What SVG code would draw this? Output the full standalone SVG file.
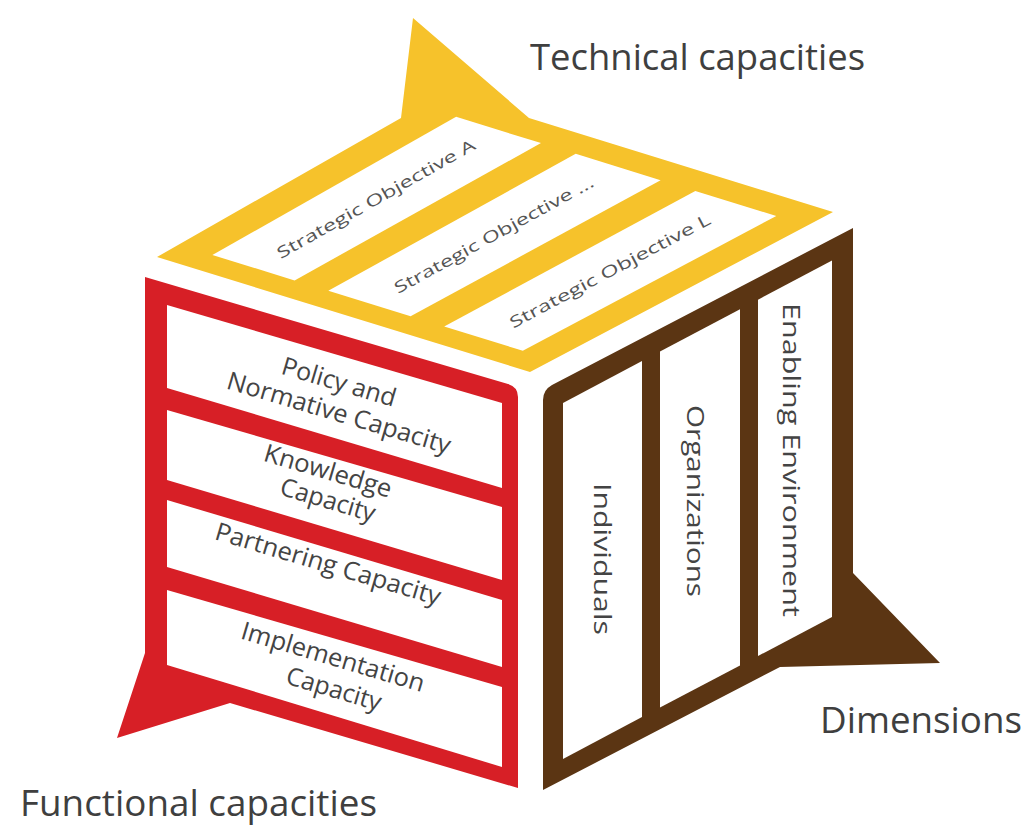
<svg xmlns="http://www.w3.org/2000/svg" width="1028" height="828" viewBox="0 0 1028 828">
<style>
.strip{fill:#ffffff}
.yel{fill:#F6C22B}
.red{fill:#D71F26}
.brn{fill:#5B3513}
.t{font-family:"Open Sans","Liberation Sans",sans-serif;fill:#444444;text-anchor:middle}
.ty{font-size:16px;fill:#555555}
.tr{font-size:25px}
.tb{font-size:24px}
.lbl{font-family:"Open Sans","Liberation Sans",sans-serif;font-size:37px;fill:#3f3f3f}
</style>
<rect width="1028" height="828" fill="#ffffff"/>
<g id="technical-capacities-face">
  <path class="yel" d="M157,257 L401,118 L413,18 L529,118 L833,212 L530,372 Z"/>
  <polygon class="strip" points="212.4,255 456.1,116.8 541,143.1 294.6,280.4"/>
  <polygon class="strip" points="328.3,290.8 575.7,153.8 660.6,180.2 410.6,316.2"/>
  <polygon class="strip" points="444.2,326.5 695.3,190.9 776.3,216 522.8,350.8"/>
  <text class="t ty" transform="translate(376,199) rotate(-29.5)" x="0" y="5.5" textLength="225" lengthAdjust="spacingAndGlyphs">Strategic Objective A</text>
  <text class="t ty" transform="translate(494,235) rotate(-28.8)" x="0" y="5.5" textLength="225" lengthAdjust="spacingAndGlyphs">Strategic Objective ...</text>
  <text class="t ty" transform="translate(610,271) rotate(-28)" x="0" y="5.5" textLength="225" lengthAdjust="spacingAndGlyphs">Strategic Objective L</text>
</g>
<g id="functional-capacities-face">
  <path class="red" d="M145,277 L508,384 Q518,387 518,397 L518,788 L230,703 L117,738 L145,653 Z"/>
  <polygon class="strip" points="167,305 502,403 502,488 167,388"/>
  <polygon class="strip" points="167,410 502,507 502,580 167,480"/>
  <polygon class="strip" points="167,500 502,600 502,667 167,567"/>
  <polygon class="strip" points="167,590 502,687 502,767 167,665"/>
  <text class="t tr" transform="translate(339,382) rotate(16.5)" x="0" y="8.5" textLength="118" lengthAdjust="spacingAndGlyphs">Policy and</text>
  <text class="t tr" transform="translate(339,413) rotate(16.5)" x="0" y="8.5" textLength="232" lengthAdjust="spacingAndGlyphs">Normative Capacity</text>
  <text class="t tr" transform="translate(328,471) rotate(16.5)" x="0" y="8.5" textLength="132" lengthAdjust="spacingAndGlyphs">Knowledge</text>
  <text class="t tr" transform="translate(328,500) rotate(16.5)" x="0" y="8.5" textLength="98" lengthAdjust="spacingAndGlyphs">Capacity</text>
  <text class="t tr" transform="translate(328,564) rotate(16.5)" x="0" y="8.5" textLength="234" lengthAdjust="spacingAndGlyphs">Partnering Capacity</text>
  <text class="t tr" transform="translate(333,657) rotate(16.5)" x="0" y="8.5" textLength="190" lengthAdjust="spacingAndGlyphs">Implementation</text>
  <text class="t tr" transform="translate(334,689) rotate(16.5)" x="0" y="8.5" textLength="98" lengthAdjust="spacingAndGlyphs">Capacity</text>
</g>
<g id="dimensions-face">
  <path class="brn" d="M543,400 Q543,390 552,385 L853,228 L853,573 L940,663 L780,667 L543,790 Z"/>
  <polygon class="strip" points="563,403 642,361 642,717 563,759"/>
  <polygon class="strip" points="660,351.6 740,309.2 740,665.5 660,707.5"/>
  <polygon class="strip" points="758,299.7 832,260.4 832,617 758,656"/>
  <text class="t tb" transform="translate(602,559) rotate(90)" x="0" y="8.4" textLength="152" lengthAdjust="spacingAndGlyphs">Individuals</text>
  <text class="t tb" transform="translate(695,501) rotate(90)" x="0" y="8.4" textLength="192" lengthAdjust="spacingAndGlyphs">Organizations</text>
  <text class="t tb" transform="translate(791,460) rotate(90)" x="0" y="8.4" textLength="314" lengthAdjust="spacingAndGlyphs">Enabling Environment</text>
</g>
<g id="labels">
  <text class="lbl" x="530" y="70" textLength="335" lengthAdjust="spacingAndGlyphs">Technical capacities</text>
  <text class="lbl" x="820" y="733" textLength="202" lengthAdjust="spacingAndGlyphs">Dimensions</text>
  <text class="lbl" x="20" y="816" textLength="357" lengthAdjust="spacingAndGlyphs">Functional capacities</text>
</g>
</svg>
